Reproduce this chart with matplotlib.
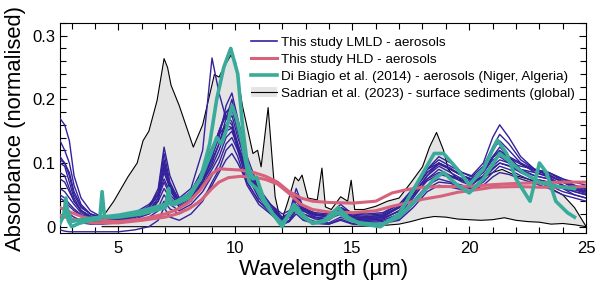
import numpy as np
import matplotlib.pyplot as plt
from matplotlib.lines import Line2D
from matplotlib.patches import Patch
from matplotlib.ticker import MultipleLocator

plt.rcParams['font.family'] = ['Liberation Sans', 'DejaVu Sans']

# Longitudes de onda comunes para las curvas LMLD
w_lmld = [2.5, 2.7, 2.9, 3.1, 3.4, 3.8, 4.3, 5.0, 5.7, 6.3, 6.7, 6.95, 7.2, 7.6, 8.1, 8.6, 9.0, 9.3, 9.6, 9.85,
          10.1, 10.5, 11.0, 11.5, 12.0, 12.3, 12.6, 12.9, 13.4, 14.0, 14.5, 15.0, 15.6, 16.3, 17.0, 17.6, 18.2,
          18.7, 19.2, 19.7, 20.1, 20.6, 21.0, 21.3, 21.7, 22.2, 22.8, 23.4, 24.0, 24.5, 25.0]

lmld = [
    [0.17, 0.16, 0.135, 0.08, 0.045, 0.025, 0.015, 0.012, 0.015, 0.025, 0.045, 0.07, 0.05, 0.035, 0.045, 0.07,
     0.11, 0.15, 0.18, 0.19, 0.15, 0.09, 0.05, 0.03, 0.01, 0.015, 0.04, 0.025, 0.015, 0.012, 0.02, 0.012, 0.01,
     0.012, 0.025, 0.05, 0.08, 0.095, 0.085, 0.075, 0.07, 0.085, 0.11, 0.125, 0.11, 0.09, 0.08, 0.075, 0.065,
     0.055, 0.05],
    [0.11, 0.1, 0.08, 0.05, 0.03, 0.02, 0.015, 0.015, 0.02, 0.03, 0.06, 0.125, 0.08, 0.045, 0.06, 0.12,
     0.265, 0.21, 0.17, 0.16, 0.12, 0.07, 0.04, 0.025, 0.01, 0.02, 0.06, 0.03, 0.02, 0.015, 0.03, 0.015, 0.012,
     0.015, 0.03, 0.06, 0.09, 0.11, 0.1, 0.085, 0.08, 0.1, 0.14, 0.16, 0.14, 0.11, 0.09, 0.085, 0.075, 0.065,
     0.06],
    [0.1, 0.095, 0.07, 0.045, 0.025, 0.015, 0.01, 0.01, 0.012, 0.02, 0.04, 0.1, 0.06, 0.03, 0.04, 0.07,
     0.1, 0.13, 0.17, 0.2, 0.16, 0.1, 0.055, 0.03, 0.008, 0.015, 0.045, 0.02, 0.012, 0.01, 0.025, 0.01, 0.008,
     0.01, 0.02, 0.045, 0.075, 0.09, 0.08, 0.07, 0.065, 0.08, 0.1, 0.115, 0.105, 0.09, 0.085, 0.08, 0.07,
     0.06, 0.055],
    [-0.005, -0.007, -0.008, -0.008, -0.008, -0.008, -0.008, -0.008, -0.005, 0.0, 0.01, 0.03, 0.015, 0.01,
     0.02, 0.04, 0.07, 0.09, 0.12, 0.13, 0.11, 0.065, 0.035, 0.02, 0.003, 0.008, 0.025, 0.012, 0.006, 0.004,
     0.012, 0.005, 0.003, 0.005, 0.012, 0.035, 0.06, 0.07, 0.068, 0.062, 0.06, 0.07, 0.085, 0.095, 0.09, 0.08,
     0.07, 0.065, 0.055, 0.05, 0.045],
    [0.06, 0.055, 0.045, 0.035, 0.022, 0.014, 0.01, 0.012, 0.02, 0.03, 0.05, 0.085, 0.06, 0.04, 0.05, 0.08,
     0.11, 0.14, 0.19, 0.21, 0.17, 0.11, 0.06, 0.035, 0.015, 0.02, 0.05, 0.03, 0.02, 0.018, 0.035, 0.02, 0.018,
     0.02, 0.035, 0.06, 0.09, 0.1, 0.09, 0.08, 0.075, 0.09, 0.11, 0.12, 0.11, 0.1, 0.09, 0.08, 0.07, 0.065,
     0.06],
    [0.03, 0.025, 0.02, 0.015, 0.01, 0.008, 0.008, 0.01, 0.015, 0.02, 0.03, 0.05, 0.035, 0.025, 0.035, 0.055,
     0.08, 0.1, 0.13, 0.14, 0.12, 0.08, 0.045, 0.025, 0.005, 0.01, 0.03, 0.015, 0.008, 0.006, 0.015, 0.008,
     0.006, 0.008, 0.015, 0.04, 0.065, 0.075, 0.07, 0.065, 0.06, 0.075, 0.09, 0.1, 0.095, 0.085, 0.075, 0.07,
     0.06, 0.055, 0.05],
    [0.135, 0.12, 0.1, 0.065, 0.035, 0.02, 0.012, 0.012, 0.018, 0.03, 0.055, 0.115, 0.07, 0.04, 0.055, 0.09,
     0.12, 0.15, 0.175, 0.165, 0.13, 0.085, 0.05, 0.03, 0.012, 0.02, 0.05, 0.028, 0.018, 0.015, 0.028, 0.015,
     0.015, 0.018, 0.03, 0.055, 0.085, 0.1, 0.09, 0.08, 0.072, 0.085, 0.105, 0.11, 0.1, 0.085, 0.075, 0.07,
     0.06, 0.05, 0.045],
    [0.085, 0.08, 0.06, 0.04, 0.025, 0.017, 0.013, 0.015, 0.022, 0.035, 0.05, 0.075, 0.055, 0.04, 0.05, 0.07,
     0.095, 0.12, 0.15, 0.155, 0.13, 0.09, 0.055, 0.035, 0.02, 0.025, 0.04, 0.028, 0.022, 0.02, 0.03, 0.022,
     0.02, 0.022, 0.035, 0.055, 0.075, 0.085, 0.08, 0.075, 0.07, 0.08, 0.095, 0.105, 0.1, 0.095, 0.09, 0.085,
     0.075, 0.07, 0.065],
    [0.045, 0.04, 0.032, 0.025, 0.018, 0.012, 0.01, 0.01, 0.015, 0.025, 0.045, 0.105, 0.065, 0.035, 0.045,
     0.075, 0.105, 0.13, 0.16, 0.175, 0.14, 0.095, 0.055, 0.03, 0.01, 0.018, 0.045, 0.025, 0.015, 0.012, 0.025,
     0.012, 0.01, 0.012, 0.025, 0.05, 0.08, 0.1, 0.092, 0.08, 0.075, 0.09, 0.12, 0.135, 0.12, 0.1, 0.085,
     0.078, 0.065, 0.058, 0.052],
    [0.02, 0.015, 0.012, 0.01, 0.006, 0.004, 0.004, 0.006, 0.01, 0.015, 0.025, 0.04, 0.028, 0.02, 0.03, 0.045,
     0.065, 0.085, 0.105, 0.115, 0.1, 0.07, 0.04, 0.022, 0.004, 0.008, 0.02, 0.01, 0.005, 0.004, 0.01, 0.004,
     0.003, 0.005, 0.01, 0.03, 0.055, 0.065, 0.062, 0.058, 0.056, 0.065, 0.078, 0.085, 0.082, 0.075, 0.068,
     0.06, 0.05, 0.045, 0.04],
    [0.075, 0.07, 0.055, 0.04, 0.026, 0.016, 0.012, 0.013, 0.02, 0.03, 0.05, 0.09, 0.062, 0.04, 0.05, 0.085,
     0.12, 0.15, 0.18, 0.185, 0.15, 0.1, 0.06, 0.035, 0.014, 0.022, 0.052, 0.03, 0.02, 0.016, 0.03, 0.016,
     0.014, 0.016, 0.03, 0.058, 0.09, 0.105, 0.095, 0.085, 0.078, 0.095, 0.125, 0.145, 0.13, 0.105, 0.09,
     0.085, 0.072, 0.064, 0.058],
    [0.05, 0.045, 0.036, 0.028, 0.019, 0.013, 0.011, 0.012, 0.017, 0.026, 0.04, 0.06, 0.045, 0.032, 0.042,
     0.065, 0.09, 0.11, 0.14, 0.15, 0.125, 0.085, 0.05, 0.03, 0.012, 0.016, 0.035, 0.02, 0.014, 0.012, 0.022,
     0.014, 0.012, 0.014, 0.024, 0.048, 0.072, 0.082, 0.078, 0.072, 0.068, 0.078, 0.092, 0.1, 0.096, 0.088,
     0.08, 0.075, 0.065, 0.058, 0.054],
    [0.105, 0.1, 0.085, 0.055, 0.032, 0.02, 0.014, 0.014, 0.02, 0.032, 0.05, 0.095, 0.066, 0.042, 0.055, 0.09,
     0.125, 0.145, 0.16, 0.155, 0.125, 0.085, 0.05, 0.03, 0.013, 0.02, 0.048, 0.026, 0.018, 0.016, 0.03, 0.018,
     0.016, 0.018, 0.032, 0.058, 0.085, 0.098, 0.09, 0.08, 0.074, 0.088, 0.108, 0.118, 0.108, 0.098, 0.088,
     0.082, 0.07, 0.062, 0.056],
]

# Curvas HLD
w_hld = [2.5, 3.0, 3.5, 4.0, 5.0, 6.0, 7.0, 7.5, 8.0, 8.5, 9.0, 9.3, 9.7, 10.2, 10.8, 11.3, 11.8, 12.3, 12.8,
         13.3, 14.0, 15.0, 16.0, 16.7, 17.3, 18.0, 18.8, 19.5, 20.3, 21.0, 22.0, 23.0, 24.0, 25.0]
hld_1 = [0.03, 0.022, 0.015, 0.011, 0.008, 0.012, 0.02, 0.027, 0.038, 0.058, 0.083, 0.091, 0.09, 0.089, 0.085,
         0.079, 0.07, 0.055, 0.045, 0.04, 0.038, 0.037, 0.04, 0.053, 0.058, 0.062, 0.063, 0.063, 0.064, 0.066,
         0.068, 0.069, 0.07, 0.07]
hld_2 = [0.018, 0.012, 0.008, 0.006, 0.006, 0.01, 0.015, 0.02, 0.028, 0.04, 0.06, 0.07, 0.077, 0.079, 0.078,
         0.074, 0.067, 0.052, 0.035, 0.027, 0.023, 0.022, 0.025, 0.032, 0.037, 0.043, 0.048, 0.054, 0.058, 0.062,
         0.063, 0.062, 0.062, 0.063]

# Di Biagio et al. (2014)
w_db1 = [2.5, 2.65, 2.75, 2.85, 3.0, 3.3, 3.8, 4.2, 4.3, 4.4, 5.0, 6.0, 7.0, 7.15, 7.25, 7.4, 8.0, 8.5, 8.9, 9.2,
         9.5, 9.8, 10.1, 10.3, 10.5, 10.75, 10.9, 11.2, 11.6, 12.0, 12.5, 12.9, 13.3, 13.8, 14.4, 14.8, 15.3, 16.2,
         17.0, 17.8, 18.5, 18.9, 19.5, 20.0, 20.6, 21.2, 21.6, 22.0, 22.6, 23.0, 23.3, 23.7, 24.2, 24.5]
db_1 = [0.01, 0.015, 0.045, 0.01, 0.0, 0.005, 0.01, 0.012, 0.055, 0.015, 0.015, 0.02, 0.03, 0.06, 0.035, 0.035,
        0.045, 0.075, 0.13, 0.2, 0.25, 0.28, 0.24, 0.16, 0.1, 0.075, 0.078, 0.045, 0.02, 0.0, 0.035, 0.018, 0.005,
        0.01, 0.03, 0.015, 0.005, 0.0, 0.02, 0.07, 0.115, 0.115, 0.09, 0.066, 0.09, 0.136, 0.115, 0.075, 0.04,
        0.1, 0.085, 0.04, 0.022, 0.015]
w_db2 = [2.5, 2.8, 3.0, 3.5, 4.0, 5.0, 6.0, 7.0, 7.5, 8.0, 8.5, 8.9, 9.2, 9.4, 9.6, 9.85, 10.05, 10.3, 10.6, 10.9,
         11.2, 11.6, 12.0, 12.5, 12.9, 13.3, 13.8, 14.4, 14.8, 15.3, 16.2, 17.0, 17.8, 18.5, 18.9, 19.5, 20.0,
         20.6, 21.3, 21.8, 22.3, 23.0, 23.5, 24.0, 24.5]
db_2 = [0.005, 0.03, 0.008, 0.012, 0.014, 0.018, 0.025, 0.035, 0.04, 0.05, 0.075, 0.11, 0.14, 0.13, 0.15, 0.19,
        0.17, 0.13, 0.07, 0.06, 0.04, 0.02, 0.005, 0.028, 0.015, 0.006, 0.008, 0.022, 0.012, 0.006, 0.003, 0.015,
        0.045, 0.075, 0.085, 0.065, 0.053, 0.075, 0.115, 0.1, 0.085, 0.07, 0.065, 0.062, 0.06]

# Sadrian et al. (2023): envolvente superior e inferior
w_sad_up = [4.3, 4.8, 5.4, 5.8, 6.05, 6.3, 6.65, 6.95, 7.1, 7.25, 7.6, 8.2, 8.6, 9.1, 9.3, 9.5, 9.8, 10.0, 10.3,
            10.75, 10.95, 11.1, 11.4, 11.7, 11.95, 12.25, 12.55, 12.7, 12.85, 13.1, 13.5, 13.7, 13.85, 14.1, 14.5,
            14.8, 14.95, 15.1, 15.5, 16.0, 16.5, 17.0, 17.5, 18.0, 18.3, 18.6, 18.9, 19.1, 19.5, 20.0, 20.5, 21.0,
            21.4, 22.0, 22.5, 23.0, 23.5, 24.0, 24.5, 25.0]
sad_up = [0.014, 0.04, 0.078, 0.1, 0.135, 0.15, 0.198, 0.264, 0.25, 0.222, 0.19, 0.125, 0.16, 0.239, 0.235, 0.25,
          0.269, 0.26, 0.19, 0.115, 0.12, 0.094, 0.187, 0.047, 0.006, 0.04, 0.078, 0.072, 0.081, 0.045, 0.042,
          0.092, 0.031, 0.027, 0.047, 0.04, 0.073, 0.027, 0.027, 0.032, 0.04, 0.045, 0.069, 0.094, 0.125, 0.148,
          0.12, 0.09, 0.075, 0.07, 0.075, 0.085, 0.09, 0.08, 0.075, 0.07, 0.06, 0.05, 0.03, 0.0]
w_sad_low = [4.3, 6.0, 8.0, 10.0, 12.0, 14.0, 16.0, 17.0, 17.5, 18.0, 18.5, 19.0, 19.5, 20.0, 20.5, 21.0, 21.5,
             22.0, 22.5, 23.0, 23.5, 24.0, 24.5, 25.0]
sad_low = [0.0, 0.0, 0.0, 0.0, 0.0, 0.0, 0.001, 0.004, 0.008, 0.013, 0.016, 0.015, 0.012, 0.011, 0.01, 0.011,
           0.014, 0.01, 0.008, 0.007, 0.004, 0.005, 0.003, 0.0]

c_lmld = '#33229a'
c_hld = '#d6627b'
c_db = '#3aab9a'

fig = plt.figure(figsize=(6, 2.87), dpi=100)
ax = fig.add_axes([0.1, 0.188, 0.877, 0.732])

# Relleno gris entre envolventes (poligono cerrado)
ax.fill(w_sad_up + w_sad_low[::-1], sad_up + sad_low[::-1], color='#e4e4e4', lw=0, zorder=1)
ax.plot(w_sad_up, sad_up, color='k', lw=0.8, zorder=2)
ax.plot(w_sad_low, sad_low, color='k', lw=0.8, zorder=2)

for curva in lmld:
    ax.plot(w_lmld, curva, color=c_lmld, lw=1.0, zorder=3)

ax.plot(w_hld, hld_1, color=c_hld, lw=2.2, zorder=4)
ax.plot(w_hld, hld_2, color=c_hld, lw=2.2, zorder=4)

ax.plot(w_db1, db_1, color=c_db, lw=2.6, zorder=5)
ax.plot(w_db2, db_2, color=c_db, lw=2.6, zorder=5)

ax.set_xlim(2.5, 25)
ax.set_ylim(-0.01, 0.32)
ax.xaxis.set_major_locator(MultipleLocator(5))
ax.xaxis.set_minor_locator(MultipleLocator(1))
ax.yaxis.set_major_locator(MultipleLocator(0.1))
ax.yaxis.set_minor_locator(MultipleLocator(0.02))
ax.yaxis.set_major_formatter(plt.FuncFormatter(lambda v, p: '0' if abs(v) < 1e-9 else f'{v:.1f}'))
ax.tick_params(which='both', direction='in', top=True, right=True, labelsize=12, width=0.8)
ax.tick_params(which='major', length=5)
ax.tick_params(which='minor', length=4)
ax.tick_params(axis='x', pad=6)
for s in ax.spines.values():
    s.set_linewidth(0.8)

ax.set_xlabel('Wavelength (µm)', fontsize=16, labelpad=2)
ax.set_ylabel('Absorbance (normalised)', fontsize=15.8, labelpad=4)

handles = [Line2D([], [], color=c_lmld, lw=1.2),
           Line2D([], [], color=c_hld, lw=2.2),
           Line2D([], [], color=c_db, lw=2.6),
           (Patch(facecolor='#e4e4e4', edgecolor='none'), Line2D([], [], color='k', lw=0.8))]
labels = ['This study LMLD - aerosols',
          'This study HLD - aerosols',
          'Di Biagio et al. (2014) - aerosols (Niger, Algeria)',
          'Sadrian et al. (2023) - surface sediments (global)']
ax.legend(handles, labels, loc='upper left', bbox_to_anchor=(0.363, 0.935), frameon=False, fontsize=9.7,
          borderpad=0, handlelength=1.9, handletextpad=0.35, labelspacing=0.33, borderaxespad=0)

plt.savefig('out.png', dpi=100)
